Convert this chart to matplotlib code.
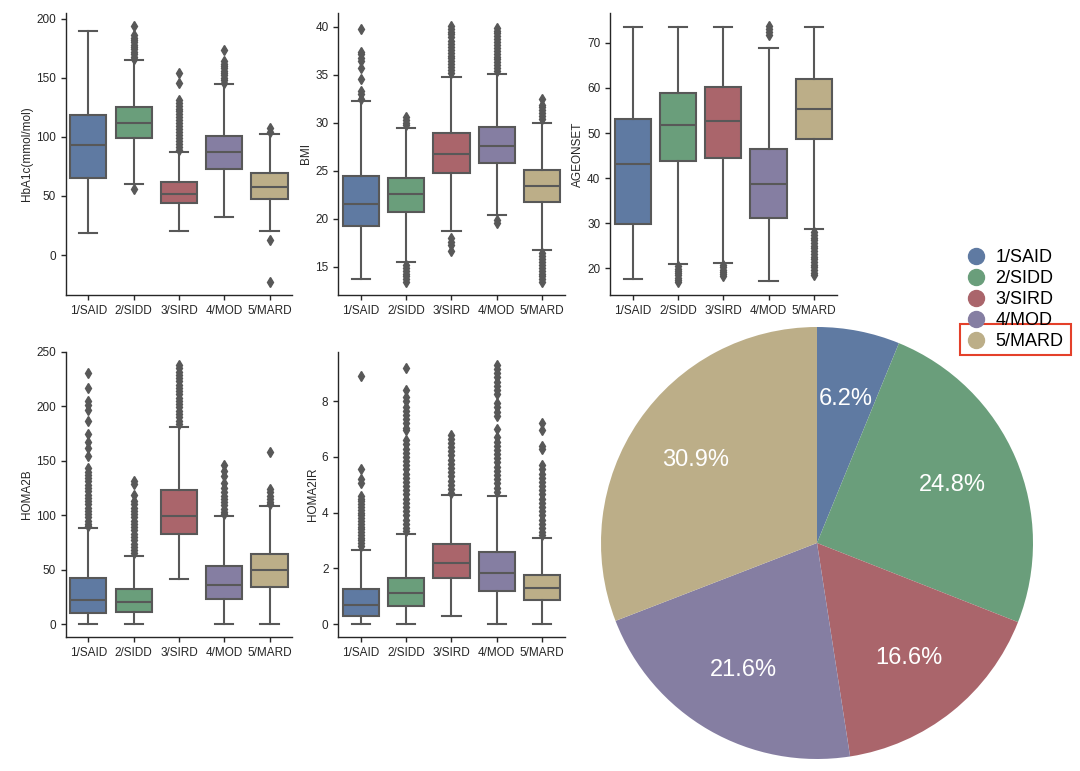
import matplotlib
matplotlib.use('Agg')
import matplotlib.pyplot as plt
from matplotlib.lines import Line2D
from matplotlib.patches import Rectangle

plt.rcParams['font.family'] = ['Liberation Sans', 'DejaVu Sans']

# ---- data ----
GROUPS = ['1/SAID', '2/SIDD', '3/SIRD', '4/MOD', '5/MARD']
COLORS = ['#5f7aa2', '#6a9e7b', '#aa656b', '#857ea2', '#bcae88']
SHARES = [6.2, 24.8, 16.6, 21.6, 30.9]

# (whislo, q1, med, q3, whishi) per group
HBA1C = [(18.5, 65.2, 93.3, 118.7, 190.0),
         (59.9, 99.1, 111.4, 125.5, 164.7),
         (20.7, 44.2, 51.5, 61.9, 87.0),
         (32.4, 72.8, 87.4, 101.0, 144.5),
         (20.7, 47.3, 57.6, 69.4, 102.5)]
HBA1C_OUT = [[],
             [56, 166, 168, 170, 172, 174, 176, 178, 180, 182, 184, 186, 194],
             [89, 91.5, 94, 96.5, 99, 101.5, 104, 106.5, 109, 111.5, 114, 116.5,
              119, 121.5, 124, 126.5, 129, 131, 146, 154],
             [146, 148, 150, 152, 154, 156, 158, 160, 162, 164, 173.5],
             [104, 107.5, 13, -23]]

BMI = [(13.7, 19.2, 21.5, 24.5, 32.3),
       (15.5, 20.75, 22.6, 24.3, 29.5),
       (18.75, 24.8, 26.75, 28.9, 34.8),
       (20.4, 25.8, 27.6, 29.55, 35.1),
       (16.8, 21.8, 23.45, 25.1, 30.0)]
BMI_OUT = [[32.5, 33.0, 33.3, 34.6, 35.7, 36.4, 36.7, 37.2, 37.4, 39.8],
           [29.8, 30.0, 30.3, 30.6, 15.2, 14.9, 14.6, 14.3, 14.0, 13.7, 13.4],
           [35.2, 35.5, 35.8, 36.1, 36.4, 36.7, 37.0, 37.3, 37.6, 37.9, 38.2,
            38.5, 38.9, 39.2, 39.5, 39.8, 40.1, 18.0, 17.6, 17.3, 16.6],
           [35.4, 35.7, 36.0, 36.3, 36.6, 36.9, 37.2, 37.5, 37.8, 38.1, 38.4,
            38.7, 39.0, 39.3, 39.6, 39.9, 19.9, 19.6],
           [30.4, 30.7, 31.0, 31.3, 31.6, 31.9, 32.5,
            16.4, 16.1, 15.8, 15.5, 15.2, 14.9, 14.6, 14.3, 14.0, 13.7, 13.4]]

AGE = [(17.6, 29.8, 43.2, 53.1, 73.6),
       (20.9, 43.7, 51.7, 58.9, 73.6),
       (21.25, 44.5, 52.7, 60.15, 73.5),
       (17.1, 31.2, 38.8, 46.5, 68.8),
       (28.6, 48.6, 55.3, 62.1, 73.6)]
AGE_OUT = [[],
           [20.4, 19.9, 19.4, 18.9, 18.4, 17.9, 17.4, 16.9],
           [20.7, 20.2, 19.7, 19.2, 18.7, 18.2],
           [71.8, 72.4, 73.0, 73.8],
           [28.0, 27.4, 26.8, 26.2, 25.6, 25.0, 24.4, 23.8, 23.2, 22.6, 22.0,
            21.4, 20.8, 20.2, 19.6, 19.0, 18.4]]

HOMA2B = [(0, 10.5, 22.2, 42.2, 88.0),
          (0, 11.5, 20.1, 32.1, 62.2),
          (41.8, 83.1, 99.1, 122.8, 181.3),
          (0, 22.8, 35.7, 53.0, 99.0),
          (0, 34.5, 49.3, 64.3, 108.3)]
HOMA2B_OUT = [[231, 217, 205, 201, 197, 187, 175, 167, 162, 154, 143, 140, 137,
               134, 131, 128, 125, 122, 119, 116, 113, 110, 107, 104, 101, 98,
               95, 92, 90],
              [131, 129, 119, 113, 110, 107, 104, 101, 98, 95, 92, 89, 86, 83,
               80, 77, 74, 71, 68, 65],
              [238, 235, 232, 229, 226, 223, 220, 217, 214, 211, 208, 205, 202,
               199, 196, 193, 190, 187, 184],
              [146, 141, 136, 130, 125, 121, 118, 115, 112, 109, 106, 103, 101],
              [158, 124, 121, 118, 115, 112, 110]]

HOMA2IR = [(0, 0.3, 0.68, 1.27, 2.67),
           (0, 0.64, 1.1, 1.67, 3.24),
           (0.3, 1.66, 2.2, 2.86, 4.62),
           (0, 1.2, 1.84, 2.6, 4.6),
           (0, 0.88, 1.3, 1.77, 3.1)]
HOMA2IR_OUT = [[8.92, 5.55, 5.2, 5.07, 4.6, 4.5, 4.4, 4.3, 4.2, 4.1, 4.0, 3.9,
                3.8, 3.7, 3.6, 3.5, 3.4, 3.3, 3.2, 3.1, 3.0, 2.9, 2.8],
               [9.2, 8.4, 8.15, 8.0, 7.8, 7.65, 7.5, 7.35, 7.2, 7.05, 6.95, 6.6,
                6.45, 6.3, 6.15, 6.0, 5.85, 5.7, 5.55, 5.4, 5.25, 5.1, 4.95, 4.8,
                4.65, 4.5, 4.35, 4.2, 4.05, 3.9, 3.75, 3.6, 3.45, 3.35],
               [6.8, 6.65, 6.5, 6.35, 6.2, 6.05, 5.9, 5.75, 5.6, 5.45, 5.3, 5.15,
                5.0, 4.85, 4.7],
               [9.3, 9.15, 9.0, 8.85, 8.7, 8.55, 8.4, 8.27, 7.95, 7.8, 7.6, 7.45,
                7.0, 6.7, 6.55, 6.4, 6.25, 6.1, 5.95, 5.8, 5.65, 5.5, 5.35, 5.2,
                5.05, 4.9, 4.75],
               [7.2, 6.95, 6.4, 6.3, 5.7, 5.55, 5.4, 5.25, 5.1, 4.95, 4.8, 4.65,
                4.5, 4.35, 4.2, 4.05, 3.9, 3.75, 3.6, 3.45, 3.3, 3.2]]

# ---- layout (pixels -> figure fractions) ----
W, H = 1080, 771
LINE = '#585858'
TXT = '#262626'

panels = [
    ('HbA1c(mmol/mol)', HBA1C, HBA1C_OUT, [0, 50, 100, 150, 200], (65.7, 13, 295)),
    ('BMI', BMI, BMI_OUT, [15, 20, 25, 30, 35, 40], (338.2, 13, 295)),
    ('AGEONSET', AGE, AGE_OUT, [20, 30, 40, 50, 60, 70], (610, 13, 295)),
    ('HOMA2B', HOMA2B, HOMA2B_OUT, [0, 50, 100, 150, 200, 250], (65.7, 352, 637)),
    ('HOMA2IR', HOMA2IR, HOMA2IR_OUT, [0, 2, 4, 6, 8], (338.2, 352, 637)),
]

fig = plt.figure(figsize=(10.8, 7.71), dpi=100)

for label, stats, outs, yticks, (x0, ytop, ybot) in panels:
    ax = fig.add_axes([x0 / W, 1 - ybot / H, 226.5 / W, (ybot - ytop) / H])
    bstats = []
    for (lo, q1, med, q3, hi), fl in zip(stats, outs):
        bstats.append(dict(whislo=lo, q1=q1, med=med, q3=q3, whishi=hi,
                           fliers=fl))
    res = ax.bxp(bstats, positions=range(5), widths=0.8, patch_artist=True,
                 boxprops=dict(edgecolor=LINE, linewidth=1.5),
                 whiskerprops=dict(color=LINE, linewidth=1.5),
                 capprops=dict(color=LINE, linewidth=1.5),
                 medianprops=dict(color=LINE, linewidth=1.5),
                 flierprops=dict(marker='d', markerfacecolor=LINE,
                                 markeredgecolor=LINE, markersize=4.8,
                                 linestyle='none'))
    for patch, c in zip(res['boxes'], COLORS):
        patch.set_facecolor(c)
    ax.set_xticks(range(5))
    ax.set_xticklabels(GROUPS)
    ax.set_xlim(-0.5, 4.5)
    ax.set_yticks(yticks)
    ax.set_ylabel(label, fontsize=8.5, color=TXT, labelpad=2)
    for side in ('top', 'right'):
        ax.spines[side].set_visible(False)
    for side in ('left', 'bottom'):
        ax.spines[side].set_color(TXT)
        ax.spines[side].set_linewidth(1.0)
    ax.tick_params(labelsize=8.5, colors=TXT, length=3.5, width=1.0)

# ---- pie ----
cx, cy, r = 817, 543, 216
ax_pie = fig.add_axes([(cx - r) / W, 1 - (cy + r) / H, 2 * r / W, 2 * r / H])
ax_pie.pie(SHARES, colors=COLORS, startangle=90, counterclock=False,
           autopct='%.1f%%', pctdistance=0.68,
           textprops=dict(color='white', fontsize=17))
ax_pie.set_xlim(-1, 1)
ax_pie.set_ylim(-1, 1)
ax_pie.set_aspect('equal')

# ---- legend ----
handles = [Line2D([], [], marker='o', linestyle='', markersize=11.5,
                  markerfacecolor=c, markeredgecolor=c) for c in COLORS]
fig.legend(handles, GROUPS, loc='upper left',
           bbox_to_anchor=(960 / W, 1 - 242 / H), frameon=False,
           fontsize=13, handlelength=1.0, handletextpad=0.55,
           labelspacing=0.22, borderpad=0.4, borderaxespad=0)

fig.add_artist(Rectangle((960 / W, 1 - 355 / H), 111 / W, 31 / H,
                         transform=fig.transFigure, fill=False,
                         edgecolor='#e4402a', linewidth=1.5))

fig.savefig('out.png', dpi=100)
